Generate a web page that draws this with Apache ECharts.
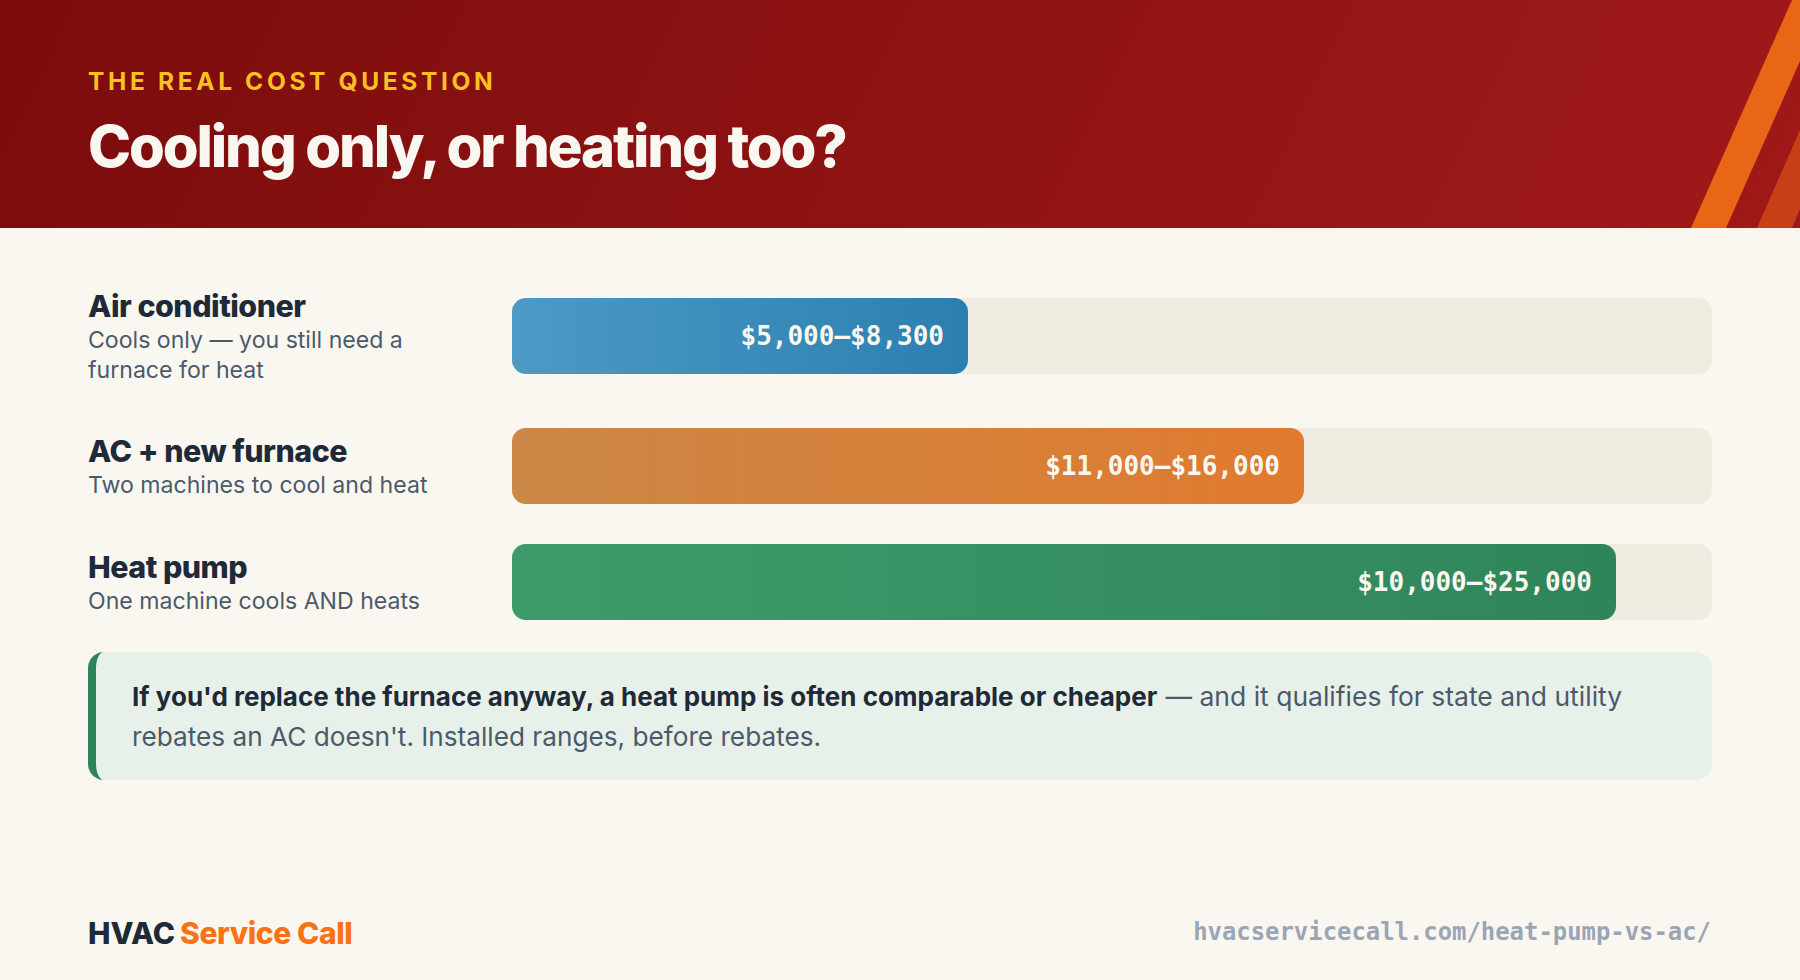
<!DOCTYPE html>
<html>
<head>
<meta charset="utf-8">
<title>Cooling only, or heating too?</title>
<style>
html,body{margin:0;padding:0;background:#faf7f0;}
#chart{width:1800px;height:980px;}
</style>
<script src="https://cdn.jsdelivr.net/npm/echarts@6/dist/echarts.min.js"></script>
</head>
<body>
<div id="chart"></div>
<script>
// data
var categories = ["Air conditioner", "AC + new furnace", "Heat pump"];
var categoryNotes = ["Cools only — you still need a\nfurnace for heat", "Two machines to cool and heat", "One machine cools AND heats"];
var barShare = [38, 66, 92]; // bar length, percent of the track
var rangeLabels = ["$5,000–$8,300", "$11,000–$16,000", "$10,000–$25,000"];
var barColors = [["#4c9ac5", "#2b7fb0"], ["#cc8847", "#e07a2e"], ["#3d9c69", "#2f855a"]];

// layout of the rows (not equally spaced in the picture)
var rowTop = [298, 428, 544];
var rowHeight = 76;
var trackLeft = 512, trackWidth = 1200;

var eyebrow = "THE REAL COST QUESTION";
var heading = "Cooling only, or heating too?";
var noteBold = "If you'd replace the furnace anyway, a heat pump is often comparable or cheaper";
var noteRest = " — and it qualifies for state and utility";
var noteLine2 = "rebates an AC doesn't. Installed ranges, before rebates.";
var brandA = "HVAC", brandB = "Service Call";
var footUrl = "hvacservicecall.com/heat-pump-vs-ac/";

var SANS = "Inter, 'Noto Sans', sans-serif";
var MONO = "'DejaVu Sans Mono', monospace";

// canvas text has no letter-spacing, so the svg renderer + css on the text nodes
var tracking = {};
tracking[eyebrow] = "3.65px";
tracking[heading] = "-2.15px";
tracking[brandB] = "-0.4px";
categories.forEach(function (c) { tracking[c] = "-0.5px"; });

var chart = echarts.init(document.getElementById("chart"), null, {renderer: "svg"});

var grids = [], xAxes = [], yAxes = [], series = [];
for (var i = 0; i < categories.length; i++) {
    grids.push({left: trackLeft, width: trackWidth, top: rowTop[i], height: rowHeight});
    xAxes.push({gridIndex: i, type: "value", min: 0, max: 100, show: false});
    yAxes.push({
        gridIndex: i,
        type: "category",
        data: [categories[i]],
        axisLine: {show: false},
        axisTick: {show: false},
        axisLabel: {
            align: "left",
            margin: trackLeft - 88,
            // note text per row
            formatter: (function (idx) {
                return function (v) {
                    var lines = categoryNotes[idx].split("\n").map(function (l) { return "{s|" + l + "}"; });
                    return "{t|" + v + "}\n" + lines.join("\n");
                };
            })(i),
            rich: {
                t: {fontFamily: SANS, fontWeight: 800, fontSize: 30.4, lineHeight: 37, color: "#1e2a38"},
                s: {fontFamily: SANS, fontWeight: 400, fontSize: 23.1, lineHeight: 30, color: "#4a5a6b"}
            }
        }
    });
    series.push({
        type: "bar",
        xAxisIndex: i,
        yAxisIndex: i,
        barWidth: rowHeight,
        data: [barShare[i]],
        showBackground: true,
        backgroundStyle: {color: "#efebe0", borderRadius: 14},
        itemStyle: {
            borderRadius: 14,
            color: new echarts.graphic.LinearGradient(0, 0, 1, 0, [
                {offset: 0, color: barColors[i][0]},
                {offset: 1, color: barColors[i][1]}
            ])
        },
        label: {
            show: true,
            position: "insideRight",
            distance: 24,
            formatter: rangeLabels[i],
            fontFamily: MONO,
            fontWeight: 700,
            fontSize: 26,
            color: "#faf7f0"
        }
    });
}

// left edge of the callout: css style border, outer radius 16, inner ellipse 8x16
function crescentPoints(x, top, bottom) {
    var pts = [], a, k;
    for (k = 0; k <= 12; k++) { a = Math.PI / 2 * k / 12; pts.push([x + 16 - 16 * Math.sin(a), top + 16 - 16 * Math.cos(a)]); }
    for (k = 12; k >= 0; k--) { a = Math.PI / 2 * k / 12; pts.push([x + 16 - 16 * Math.sin(a), bottom - 16 + 16 * Math.cos(a)]); }
    for (k = 0; k <= 12; k++) { a = Math.PI / 2 * k / 12; pts.push([x + 16 - 8 * Math.sin(a), bottom - 16 + 16 * Math.cos(a)]); }
    for (k = 12; k >= 0; k--) { a = Math.PI / 2 * k / 12; pts.push([x + 16 - 8 * Math.sin(a), top + 16 - 16 * Math.cos(a)]); }
    return pts;
}

var decor = [
    // header band
    {type: "rect", z: 0, shape: {x: 0, y: 0, width: 1800, height: 228},
        style: {fill: {type: "linear", global: true, x: 128, y: -262, x2: 1672, y2: 490,
            colorStops: [{offset: 0, color: "#7c0c0c"}, {offset: 1, color: "#a01919"}]}}},
    {type: "polygon", z: 1, shape: {points: [[1792, 0], [1800, 0], [1800, 61], [1726, 228], [1691, 228]]}, style: {fill: "#ea6617"}},
    {type: "polygon", z: 1, shape: {points: [[1800, 130], [1800, 209], [1792, 228], [1757, 228]]}, style: {fill: "#c63f17"}},
    {type: "text", z: 2, x: 88, y: 81, style: {text: eyebrow, verticalAlign: "middle", fill: "#fbbf24",
        font: "700 24.5px " + SANS}},
    {type: "text", z: 2, x: 88, y: 146, style: {text: heading, verticalAlign: "middle", fill: "#faf7f0",
        font: "800 58px " + SANS}},
    // callout
    {type: "rect", z: 0, shape: {x: 88, y: 652, width: 1624, height: 128, r: 16}, style: {fill: "#e8f1e9"}},
    {type: "polygon", z: 1, shape: {points: crescentPoints(88, 652, 780)}, style: {fill: "#2f855a"}},
    {type: "text", z: 2, x: 132, y: 716, style: {
        text: "{b|" + noteBold + "}{r|" + noteRest + "}\n{q|" + noteLine2 + "}",
        verticalAlign: "middle",
        rich: {
            b: {fontFamily: SANS, fontWeight: 700, fontSize: 26, lineHeight: 40, fill: "#1e2a38"},
            r: {fontFamily: SANS, fontWeight: 400, fontSize: 26.5, lineHeight: 40, fill: "#4a5a6b"},
            q: {fontFamily: SANS, fontWeight: 400, fontSize: 26.2, lineHeight: 40, fill: "#4a5a6b"}
        }
    }},
    // footer
    {type: "text", z: 2, x: 88, y: 933, style: {text: brandA, verticalAlign: "middle", fill: "#1e2a38",
        font: "800 30px " + SANS}},
    {type: "text", z: 2, x: 180, y: 933, style: {text: brandB, verticalAlign: "middle", fill: "#f97316",
        font: "800 30px " + SANS}},
    {type: "text", z: 2, x: 1711, y: 932, style: {text: footUrl, align: "right", verticalAlign: "middle",
        fill: "#9aa5b5", font: "700 23.9px " + MONO}}
];

chart.on("finished", function () {
    var nodes = document.querySelectorAll("#chart text");
    for (var i = 0; i < nodes.length; i++) {
        var s = tracking[nodes[i].textContent];
        if (s) nodes[i].style.letterSpacing = s;
    }
});

chart.setOption({
    animation: false,
    backgroundColor: "#faf7f0",
    grid: grids,
    xAxis: xAxes,
    yAxis: yAxes,
    series: series,
    graphic: decor
});
</script>
</body>
</html>
